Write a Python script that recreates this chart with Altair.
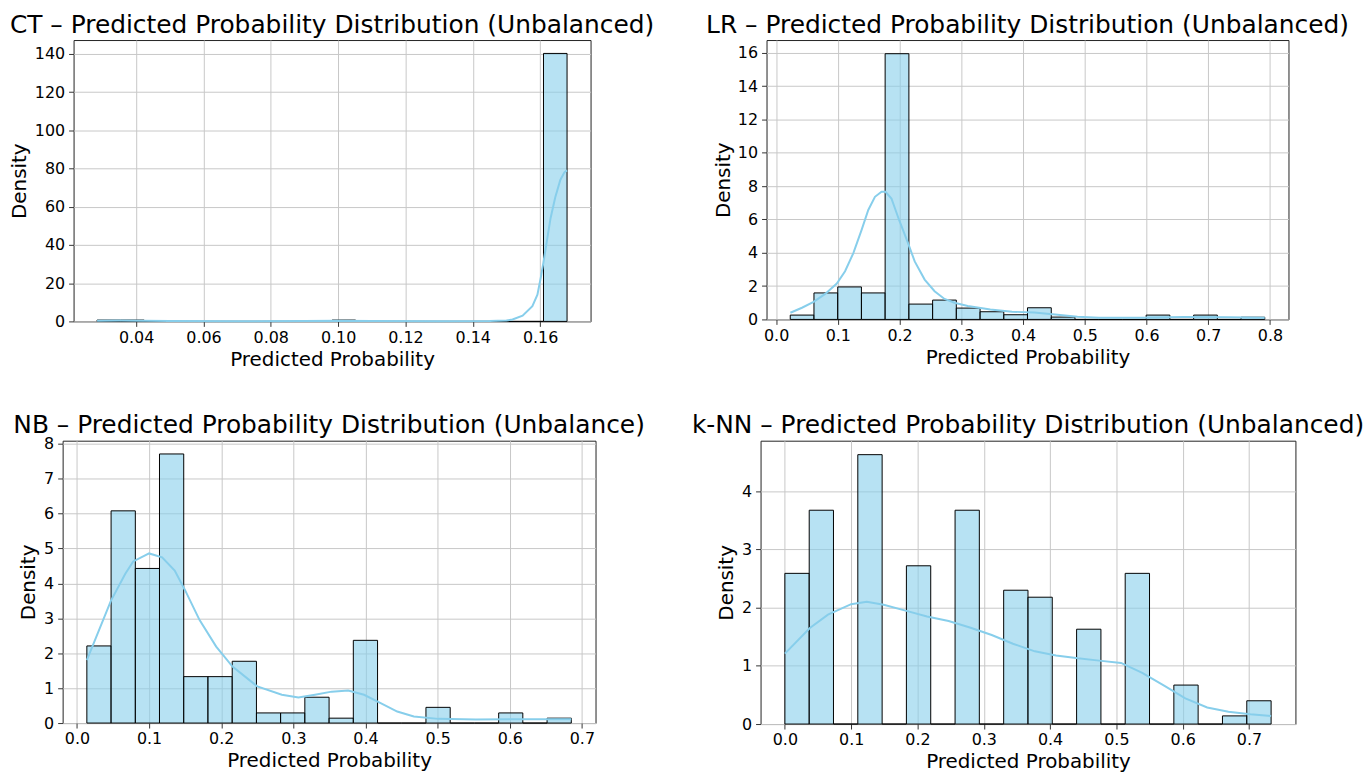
import altair as alt
import pandas as pd

# ---------------- data ----------------
# CT
ct_edges = [0.0284, 0.0354, 0.0424, 0.0493, 0.0563, 0.0633, 0.0703, 0.0773, 0.0842, 0.0912,
            0.0982, 0.1052, 0.1122, 0.1191, 0.1261, 0.1331, 0.1401, 0.1470, 0.1540, 0.1610, 0.1680]
ct_density = [0.7, 0.7, 0, 0, 0, 0, 0, 0, 0, 0, 0.7, 0, 0, 0, 0, 0, 0, 0, 0, 140.2]
ct_kde_x = [0.0284, 0.035, 0.042, 0.05, 0.07, 0.09, 0.10, 0.11, 0.13, 0.145, 0.150, 0.1518,
            0.1548, 0.1577, 0.1592, 0.1602, 0.1610, 0.1620, 0.1631, 0.1645, 0.1660, 0.1672, 0.1680]
ct_kde_y = [0.4, 0.5, 0.4, 0.2, 0.1, 0.2, 0.4, 0.2, 0.1, 0.2, 0.5, 1.0,
            3, 8, 14, 23, 31, 42, 54, 65, 74, 78, 79]

# LR
lr_edges = [0.0229, 0.0613, 0.0998, 0.1382, 0.1766, 0.2151, 0.2535, 0.2919, 0.3304, 0.3688, 0.4072,
            0.4457, 0.4841, 0.5225, 0.5610, 0.5994, 0.6378, 0.6763, 0.7147, 0.7531, 0.7915]
lr_density = [0.26, 1.59, 1.95, 1.59, 15.95, 0.92, 1.16, 0.68, 0.46, 0.28, 0.70, 0.14,
              0, 0, 0, 0.26, 0, 0.26, 0, 0.13]
lr_kde_x = [0.0231, 0.0419, 0.0607, 0.0795, 0.0983, 0.1117, 0.1251, 0.1385, 0.1493, 0.1601, 0.1708,
            0.1772, 0.1868, 0.1992, 0.2137, 0.2245, 0.2406, 0.2567, 0.2728, 0.2889, 0.3104, 0.347,
            0.382, 0.418, 0.452, 0.488, 0.523, 0.591, 0.661, 0.733, 0.7915]
lr_kde_y = [0.40, 0.70, 1.05, 1.53, 2.15, 2.89, 3.98, 5.37, 6.57, 7.36, 7.66,
            7.66, 7.26, 5.97, 4.58, 3.48, 2.39, 1.69, 1.23, 1.0, 0.80, 0.60,
            0.46, 0.42, 0.30, 0.16, 0.10, 0.10, 0.14, 0.13, 0.10]

# NB
nb_edges = [0.0137, 0.0473, 0.0809, 0.1144, 0.1480, 0.1816, 0.2152, 0.2488, 0.2823, 0.3159, 0.3495,
            0.3831, 0.4167, 0.4502, 0.4838, 0.5174, 0.5510, 0.5846, 0.6181, 0.6517, 0.6853]
nb_density = [2.21, 6.08, 4.43, 7.71, 1.33, 1.33, 1.77, 0.29, 0.29, 0.74, 0.14, 2.37,
              0, 0, 0.45, 0, 0, 0.29, 0, 0.14]
nb_kde_x = [0.0137, 0.047, 0.067, 0.078, 0.100, 0.118, 0.1355, 0.150, 0.170, 0.193, 0.2156, 0.250,
            0.284, 0.307, 0.330, 0.353, 0.376, 0.398, 0.421, 0.444, 0.467, 0.501, 0.553, 0.610, 0.6853]
nb_kde_y = [1.80, 3.5, 4.28, 4.63, 4.86, 4.75, 4.37, 3.8, 2.95, 2.19, 1.62, 1.05,
            0.81, 0.73, 0.81, 0.90, 0.93, 0.81, 0.57, 0.33, 0.19, 0.12, 0.10, 0.11, 0.11]

# k-NN
knn_edges = [0.0, 0.0367, 0.0733, 0.11, 0.1467, 0.1833, 0.22, 0.2567, 0.2933, 0.33, 0.3667,
             0.4033, 0.44, 0.4767, 0.5133, 0.55, 0.5867, 0.6233, 0.66, 0.6967, 0.7334]
knn_density = [2.59, 3.675, 0, 4.63, 0, 2.72, 0, 3.675, 0, 2.30, 2.18, 0, 1.63, 0, 2.59, 0,
               0.67, 0, 0.14, 0.40]
knn_kde_x = [0.0, 0.0377, 0.065, 0.1, 0.1235, 0.149, 0.182, 0.2144, 0.247, 0.279, 0.312, 0.344,
             0.377, 0.409, 0.442, 0.474, 0.507, 0.539, 0.572, 0.604, 0.637, 0.669, 0.702, 0.7334]
knn_kde_y = [1.21, 1.65, 1.88, 2.06, 2.10, 2.05, 1.95, 1.85, 1.77, 1.66, 1.53, 1.38,
             1.25, 1.18, 1.13, 1.09, 1.05, 0.88, 0.66, 0.44, 0.285, 0.21, 0.17, 0.14]

# axis ticks
ct_xticks = [0.04, 0.06, 0.08, 0.10, 0.12, 0.14, 0.16]
ct_yticks = [0, 20, 40, 60, 80, 100, 120, 140]
lr_xticks = [0.0, 0.1, 0.2, 0.3, 0.4, 0.5, 0.6, 0.7, 0.8]
lr_yticks = [0, 2, 4, 6, 8, 10, 12, 14, 16]
nb_xticks = [0.0, 0.1, 0.2, 0.3, 0.4, 0.5, 0.6, 0.7]
nb_yticks = [0, 1, 2, 3, 4, 5, 6, 7, 8]
knn_xticks = [0.0, 0.1, 0.2, 0.3, 0.4, 0.5, 0.6, 0.7]
knn_yticks = [0, 1, 2, 3, 4]

titles = [
    "CT \u2013 Predicted Probability Distribution (Unbalanced)",
    "LR \u2013 Predicted Probability Distribution (Unbalanced)",
    "NB \u2013 Predicted Probability Distribution (Unbalance)",
    "k-NN \u2013 Predicted Probability Distribution (Unbalanced)",
]

FONT = "DejaVu Sans"
SKY = "#87ceeb"


def panel(title, edges, dens, kx, ky, xdom, ydom, xticks, yticks, xfmt, w, h, ytpad, toff):
    bars_df = pd.DataFrame({"lo": edges[:-1], "hi": edges[1:], "density": dens})
    kde_df = pd.DataFrame({"p": kx, "k": ky})
    xs = alt.Scale(domain=xdom, nice=False, zero=False)
    ys = alt.Scale(domain=ydom, nice=False, zero=False)

    def xaxis():
        return alt.Axis(values=xticks, format=xfmt, title="Predicted Probability",
                        labelFlush=False, labelOverlap=False)

    def yaxis():
        return alt.Axis(values=yticks, format="d", title="Density", titlePadding=ytpad,
                        labelFlush=False, labelOverlap=False)

    bars = alt.Chart(bars_df).mark_rect(
        fill=SKY, fillOpacity=0.6, stroke="black", strokeWidth=1
    ).encode(
        x=alt.X("lo:Q", scale=xs, axis=xaxis()),
        x2="hi:Q",
        y=alt.Y("density:Q", scale=ys, axis=yaxis()),
        y2=alt.datum(0),
    )
    line = alt.Chart(kde_df).mark_line(color=SKY, strokeWidth=2).encode(
        x=alt.X("p:Q", scale=xs, axis=xaxis()),
        y=alt.Y("k:Q", scale=ys, axis=yaxis()),
    )
    return alt.layer(bars, line).properties(
        width=w, height=h,
        title=alt.TitleParams(text=title, fontSize=25, font=FONT, fontWeight="normal",
                              color="black", anchor="middle", frame="group", offset=toff),
    )


def spacer(w, h):
    return alt.Chart(pd.DataFrame({"v": [0]})).mark_point(opacity=0).encode(
        x=alt.X("v:Q", axis=None), y=alt.Y("v:Q", axis=None)
    ).properties(width=w, height=h,
                 view=alt.ViewBackground(stroke="transparent", fill="transparent"))


p1 = panel(titles[0], ct_edges, ct_density, ct_kde_x, ct_kde_y, [0.02142, 0.17498], [0, 147.2],
           ct_xticks, ct_yticks, ".2f", 520, 283, 5, 2.5)
p2 = panel(titles[1], lr_edges, lr_density, lr_kde_x, lr_kde_y, [-0.01553, 0.82993], [0, 16.77],
           lr_xticks, lr_yticks, ".1f", 525, 281, 4, 2.5)
p3 = panel(titles[2], nb_edges, nb_density, nb_kde_x, nb_kde_y, [-0.01988, 0.71888], [0, 8.09],
           nb_xticks, nb_yticks, ".1f", 536, 284, 5, -2)
p4 = panel(titles[3], knn_edges, knn_density, knn_kde_x, knn_kde_y, [-0.03667, 0.77007], [0, 4.87],
           knn_xticks, knn_yticks, ".1f", 538, 285, 5, 2.5)

row1 = alt.hconcat(spacer(10.6, 283), p1, spacer(177, 283), p2, spacing=0, bounds="flush")
row2 = alt.hconcat(p3, spacer(165.2, 284), p4, spacing=0, bounds="flush")

chart = alt.vconcat(row1, row2, spacing=42).properties(
    padding={"left": 8, "top": 10, "right": 5, "bottom": 5},
    background="white",
).configure_view(
    stroke="#222222", strokeWidth=1, fill="white"
).configure_axis(
    labelFont=FONT, labelFontSize=16, labelColor="black",
    titleFont=FONT, titleFontSize=20, titleFontWeight="normal", titleColor="black",
    tickSize=5, tickWidth=1, tickColor="#333333",
    domain=False, grid=True, gridColor="#c8c8c8", gridWidth=1,
).configure_axisX(
    labelPadding=3, titlePadding=4,
).configure_axisY(
    labelPadding=4,
)

chart.save("out.html", embed_options={"renderer": "svg", "actions": False})
